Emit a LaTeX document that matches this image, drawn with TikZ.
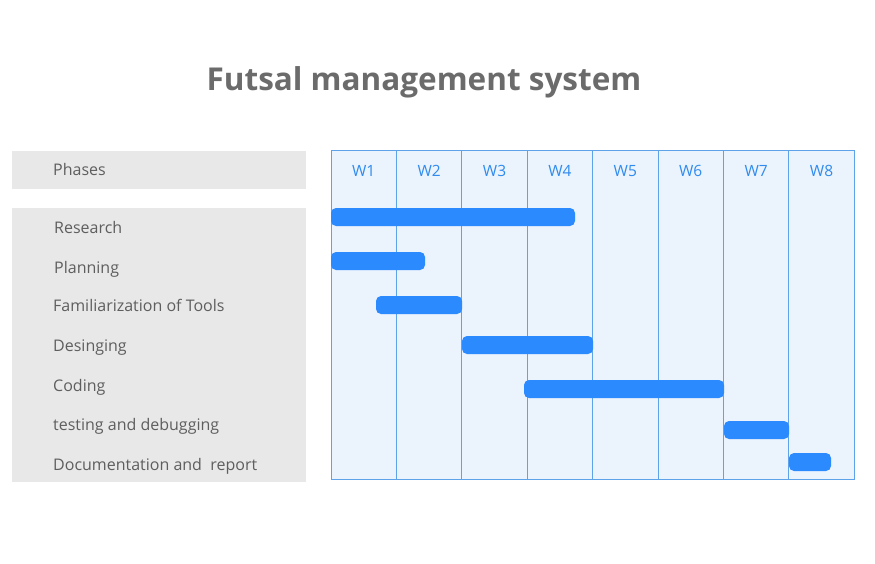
\documentclass[tikz,border=0pt]{standalone}
\usepackage{fontspec}
\setmainfont{Open Sans}
\usepackage{tikz}
\usetikzlibrary{positioning}
\usepackage{xcolor}
\definecolor{titlegray}{HTML}{6B6B6B}
\definecolor{textgray}{HTML}{5E5E5E}
\definecolor{panelgray}{HTML}{E8E8E8}
\definecolor{gridfill}{HTML}{EBF3FC}
\definecolor{gridline}{HTML}{5EA2EA}
\definecolor{weekblue}{HTML}{2F8BEF}
\definecolor{barblue}{HTML}{2B8BFE}

\begin{document}
\begin{tikzpicture}[
  x=1pt, y=-1pt,
  title/.style={font=\fontsize{31.5}{36}\selectfont\bfseries, text=titlegray, anchor=base, inner sep=0pt},
  phase/.style={font=\fontsize{16}{19}\selectfont, text=textgray, anchor=base west, inner sep=0pt},
  week/.style={font=\fontsize{15.5}{18}\selectfont, text=weekblue, anchor=base, inner sep=0pt},
  panel/.style={fill=panelgray, draw=none},
  col/.style={fill=gridfill, draw=gridline, line width=1pt},
  bar/.style={fill=barblue, draw=none, rounded corners=5pt}
]
\useasboundingbox (0,0) rectangle (875,563);

% title
\node[title] (ttl) at (424,90) {Futsal management system};

% left panels
\fill[panel] (12,151) rectangle (306,189);
\fill[panel] (12,208) rectangle (306,482);

% week columns
\foreach \i in {1,...,8}{
  \pgfmathsetmacro{\xa}{331+(\i-1)*65.4}
  \pgfmathsetmacro{\xb}{331+\i*65.4}
  \filldraw[col] (\xa,150) rectangle (\xb,479);
  \node[week] (w\i) at ({(\xa+\xb)/2},176.5) {W\i};
}

% phase labels
\node[phase] (ph) at (53,175.7) {Phases};
\node[phase] (p1) at (54,233) {Research};
\node[phase] (p2) at (54,273) {Planning};
\node[phase] (p3) at (53,311.7) {Familiarization of Tools};
\node[phase] (p4) at (53,351.5) {Desinging};
\node[phase] (p5) at (53,391) {Coding};
\node[phase] (p6) at (53,430) {testing and debugging};
\node[phase] (p7) at (53,470) {Documentation and\ \ report};

% bars
\fill[bar] (331,208) rectangle (575,226);
\fill[bar] (331,252) rectangle (425,270);
\fill[bar] (376,296) rectangle (462,314);
\fill[bar] (462,336) rectangle (593,354);
\fill[bar] (524,380) rectangle (724,398);
\fill[bar] (724,421) rectangle (789,439);
\fill[bar] (789,453) rectangle (831,471);

\end{tikzpicture}
\end{document}
